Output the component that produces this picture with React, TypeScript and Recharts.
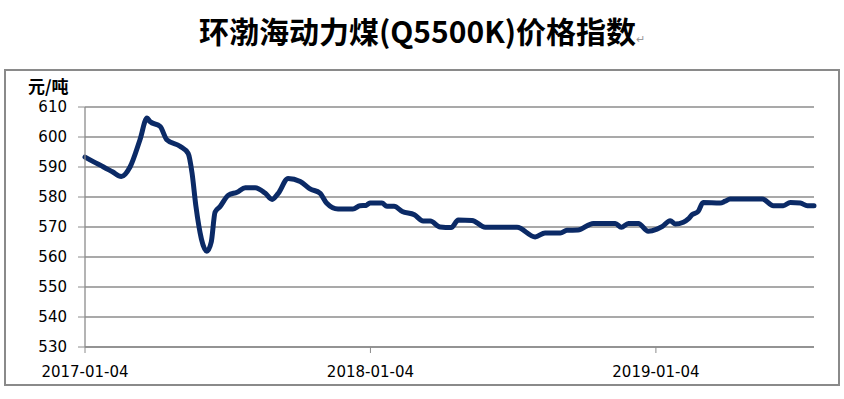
import { LineChart, Line, XAxis, YAxis, CartesianGrid } from 'recharts'

// 周序号（自 2017-01-04 起）与指数值，读自原图
const WEEKS = [
  0, 1.6, 3.3, 5.0, 6.6, 8.2, 10.0, 11.3, 11.8, 13.7, 14.9, 17.3, 18.8, 19.5, 20.2, 22.2, 23.0, 23.7, 24.6,
  26.1, 27.7, 29.2, 31.0, 32.8, 34.1, 35.2, 37.0, 39.2, 41.0, 42.8, 44.0, 46.1, 48.8, 50.1,
  51.2, 51.9, 54.1, 55.0, 56.3, 57.8, 60.0, 61.6, 62.9, 64.7, 66.7, 68.0, 70.5, 72.9, 78.7,
  82.0, 83.8, 86.6, 87.8, 89.8, 92.6, 96.6, 97.7, 99.0, 100.8, 102.6, 104.2, 105.2, 106.6,
  107.5, 109.0, 109.9, 110.6, 111.7, 112.6, 115.7, 116.6, 117.5, 123.4, 125.4, 127.2, 128.5,
  130.3, 131.6, 132.8,
]
const PRICES = [
  593.3, 591.7, 590.1, 588.4, 586.8, 590, 599, 606.3, 605.2, 603.5, 599.1, 596.9, 594.5, 588, 577, 561.9, 565, 575, 576.8,
  580.6, 581.6, 583.1, 583.1, 581.3, 579.2, 581.2, 586.2, 585.2, 582.7, 581.3, 578, 576, 576, 577.1,
  577.2, 578, 578, 576.9, 576.9, 575.2, 574.1, 572, 572, 570, 569.8, 572.3, 572.2, 569.9, 569.9,
  566.7, 568, 568, 568.9, 569, 571.2, 571.2, 569.9, 571.2, 571.2, 568.6, 569.3, 570.2, 572.1,
  571, 571.6, 572.7, 574.1, 575.2, 578.2, 578, 578.6, 579.3, 579.3, 577.1, 577.1, 578.2,
  578, 577.1, 577.1,
]
const TICK_WEEKS = [0, 52, 104]
const TICK_LABELS = ['2017-01-04', '2018-01-04', '2019-01-04']
const Y_TICKS = [530, 540, 550, 560, 570, 580, 590, 600, 610]

const GRID = '#8c8c8c'
const NAVY = '#0b2a66'
const FONT = '"DejaVu Sans", sans-serif'

export default function App() {
  const rows = WEEKS.map((w, i) => ({ w, v: PRICES[i] }))
  const fmtX = (v: number) => TICK_LABELS[TICK_WEEKS.indexOf(v)] ?? ''

  return (
    <div style={{ position: 'absolute', left: 0, top: 0, width: 844, height: 399, background: '#fff' }}>
      <div style={{
        position: 'absolute', left: 0, top: 10, width: 844, textAlign: 'center',
        fontFamily: '"Noto Sans CJK SC", sans-serif', fontWeight: 700, fontSize: 30, color: '#000', lineHeight: '40px',
      }}>
        环渤海动力煤(Q5500K)价格指数<span style={{ fontSize: 11, fontWeight: 400, color: '#999' }}>↵</span>
      </div>
      <div style={{
        position: 'absolute', left: 4, top: 69, width: 832, height: 313, border: '2px solid #8a8a8a',
      }} />
      <div style={{
        position: 'absolute', left: 28, top: 74, fontFamily: '"Noto Sans CJK SC", sans-serif',
        fontWeight: 700, fontSize: 17, color: '#000', lineHeight: '24px',
      }}>
        元/吨
      </div>
      <div style={{ position: 'absolute', left: 0, top: 0 }}>
        <LineChart width={844} height={399} data={rows} margin={{ top: 107, right: 30, left: 25, bottom: 22 }}>
          <CartesianGrid stroke={GRID} strokeWidth={1.3} vertical={false} />
          <XAxis
            type="number" dataKey="w" domain={[0, 132.8]} ticks={TICK_WEEKS} tickFormatter={fmtX}
            height={30} tickSize={6} tickMargin={13} interval={0}
            axisLine={{ stroke: GRID, strokeWidth: 1.3 }} tickLine={{ stroke: GRID }}
            tick={{ fontSize: 15, fill: '#000', fontFamily: FONT }}
          />
          <YAxis
            domain={[530, 610]} ticks={Y_TICKS} width={60} tickSize={7} tickMargin={11} interval={0}
            axisLine={{ stroke: GRID, strokeWidth: 1.3 }} tickLine={{ stroke: GRID }}
            tick={{ fontSize: 15, fill: '#000', fontFamily: FONT }}
          />
          <Line
            type="monotone" dataKey="v" stroke={NAVY} strokeWidth={5} dot={false}
            strokeLinejoin="round" strokeLinecap="round" isAnimationActive={false}
          />
        </LineChart>
      </div>
    </div>
  )
}
